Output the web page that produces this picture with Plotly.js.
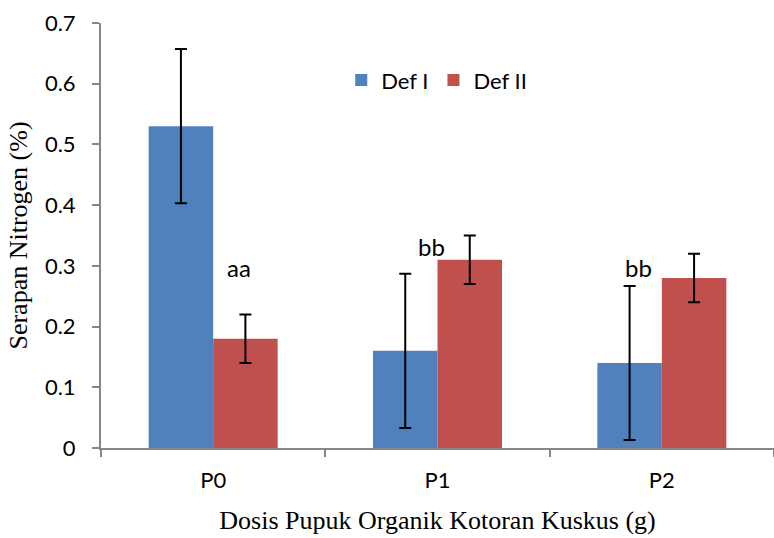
<!DOCTYPE html>
<html>
<head>
<meta charset="utf-8">
<script src="https://cdn.plot.ly/plotly-3.0.1.min.js"></script>
<style>html,body{margin:0;padding:0;background:#fff;}#chart{width:774px;height:538px;}</style>
</head>
<body>
<div id="chart"></div>
<script>
var categories = ["P0", "P1", "P2"];
var defI = [0.53, 0.16, 0.14];
var defIErr = [0.127, 0.127, 0.127];
var defII = [0.18, 0.31, 0.28];
var defIIErr = [0.04, 0.04, 0.04];
var labels = ["aa", "bb", "bb"];
var labelY = [0.298, 0.332, 0.298];
var labelShift = [26, -6, -23];
var yTickVals = [0, 0.1, 0.2, 0.3, 0.4, 0.5, 0.6, 0.7];
var yTickText = ["0", "0.1", "0.2", "0.3", "0.4", "0.5", "0.6", "0.7"];

var sans = "Lato, 'Open Sans', sans-serif";
var serif = "'Liberation Serif', 'Times New Roman', serif";
var tickFont = {family: sans, size: 22, color: "#000"};
var errStyle = {type: "data", visible: true, color: "#000", thickness: 2, width: 6};

var traces = [
  {type: "bar", name: "Def I", x: categories, y: defI,
   marker: {color: "#4F81BD"},
   error_y: Object.assign({array: defIErr}, errStyle)},
  {type: "bar", name: "Def II", x: categories, y: defII,
   marker: {color: "#C0504D"},
   error_y: Object.assign({array: defIIErr}, errStyle)}
];

var annotations = categories.map(function(c, i){
  return {x: c, y: labelY[i], xref: "x", yref: "y", text: labels[i],
    showarrow: false, xshift: labelShift[i],
    font: {family: sans, size: 24, color: "#000"}};
});

var layout = {
  width: 774, height: 538,
  margin: {l: 101, r: 0, t: 23, b: 90},
  paper_bgcolor: "#fff", plot_bgcolor: "#fff",
  barmode: "group", bargap: 0.425, bargroupgap: 0,
  showlegend: true,
  legend: {orientation: "h", x: 0.357, y: 0.915, xanchor: "left", yanchor: "top",
    font: {family: sans, size: 22, color: "#000"},
    itemwidth: 30, traceorder: "normal", bgcolor: "rgba(0,0,0,0)"},
  xaxis: {
    showline: true, linecolor: "#868686", linewidth: 2,
    ticks: "outside", tickson: "boundaries", ticklen: 7, tickcolor: "#868686", tickwidth: 2,
    ticklabelstandoff: 12,
    tickfont: tickFont, showgrid: false, zeroline: false,
    title: {text: "Dosis Pupuk Organik Kotoran Kuskus (g)", standoff: 18,
      font: {family: serif, size: 26, color: "#000"}}
  },
  yaxis: {
    range: [0, 0.7], tickvals: yTickVals, ticktext: yTickText,
    showline: true, linecolor: "#868686", linewidth: 2,
    ticks: "outside", ticklen: 7, tickcolor: "#868686", tickwidth: 2,
    ticklabelstandoff: 12,
    tickfont: tickFont, showgrid: false, zeroline: false,
    title: {text: "Serapan Nitrogen (%)", standoff: 10,
      font: {family: serif, size: 26, color: "#000"}}
  },
  annotations: annotations
};

Plotly.newPlot("chart", traces, layout, {displayModeBar: false, staticPlot: true});
</script>
</body>
</html>
